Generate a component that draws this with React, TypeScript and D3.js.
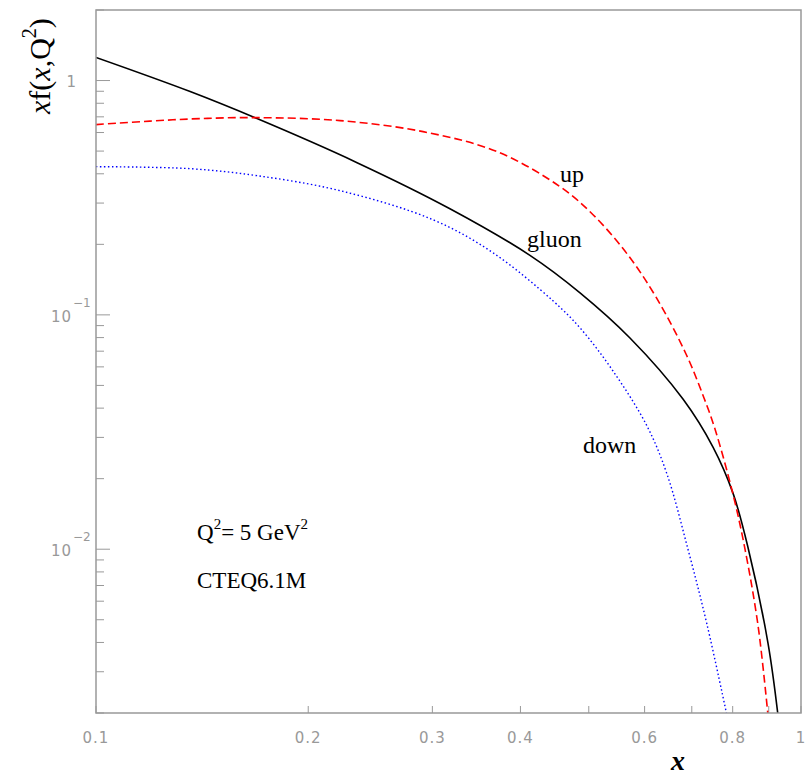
import React from "react";
import * as d3 from "d3";

// Parton distributions x·f(x, Q²) at Q² = 5 GeV², CTEQ6.1M
const gluonX = [0.1, 0.136, 0.1692, 0.2346, 0.3177, 0.4126, 0.4859, 0.572, 0.6801, 0.7502, 0.8008, 0.8409, 0.8979, 0.9277];
const gluonY = [1.254, 0.897, 0.688, 0.4462, 0.2838, 0.1795, 0.1242, 0.0797, 0.04375, 0.02729, 0.01735, 0.0102, 0.003966, 0.00195];

const upX = [0.1, 0.1193, 0.1404, 0.1692, 0.2219, 0.291, 0.3706, 0.4552, 0.507, 0.5665, 0.6226, 0.6869, 0.7285, 0.7551, 0.8008, 0.8329, 0.869, 0.8979];
const upY = [0.6486, 0.6713, 0.688, 0.6947, 0.6746, 0.6052, 0.4973, 0.3524, 0.2676, 0.1823, 0.1193, 0.0681, 0.04418, 0.03257, 0.01718, 0.01, 0.004733, 0.00195];

const downX = [0.1, 0.136, 0.1692, 0.2219, 0.3006, 0.3658, 0.4448, 0.4859, 0.5412, 0.6047, 0.6455, 0.6913, 0.7356, 0.7852];
const downY = [0.429, 0.4206, 0.3927, 0.3388, 0.2547, 0.184, 0.1148, 0.08799, 0.05761, 0.03355, 0.02092, 0.01, 0.004779, 0.00195];

const xAllTicks = [0.1, 0.2, 0.3, 0.4, 0.5, 0.6, 0.7, 0.8, 0.9, 1];
const xLabelValues = [0.1, 0.2, 0.3, 0.4, 0.6, 0.8, 1];
const xLabelTexts = ["0.1", "0.2", "0.3", "0.4", "0.6", "0.8", "1"];
const yMajorValues = [0.01, 0.1, 1];
const yMajorExponents = ["\u22122", "\u22121", ""];

const W = 805;
const H = 777;
const frame = { left: 96, right: 801, top: 10, bottom: 713 };

const x = d3.scaleLog().domain([0.1, 1]).range([frame.left, frame.right]);
const y = d3.scaleLog().domain([0.002, 2]).range([frame.bottom, frame.top]);

const zip = (xs: number[], ys: number[]) => xs.map((v, i) => [v, ys[i]] as [number, number]);

const line = d3
  .line<[number, number]>()
  .x((d) => x(d[0]))
  .y((d) => y(d[1]))
  .curve(d3.curveCatmullRom.alpha(0.5));

const series = [
  { name: "gluon", d: zip(gluonX, gluonY), stroke: "#000000", width: 1.6, dash: undefined as string | undefined },
  { name: "up", d: zip(upX, upY), stroke: "#ff0000", width: 1.6, dash: "8 4" },
  { name: "down", d: zip(downX, downY), stroke: "#0000ff", width: 1.4, dash: "1.5 2.5" },
];

const tickColor = "#999999";
const labelFont = "DejaVu Sans, sans-serif";
const serif = "Liberation Serif, Times New Roman, serif";

export default function App() {
  const yTicks = y.ticks();
  const isMajor = (v: number) => yMajorValues.some((m) => Math.abs(m - v) / m < 1e-6);

  return (
    <svg
      width={W}
      height={H}
      viewBox={`0 0 ${W} ${H}`}
      style={{ position: "absolute", left: 0, top: 0, background: "#ffffff" }}
    >
      <defs>
        <clipPath id="plot-area">
          <rect x={frame.left} y={frame.top} width={frame.right - frame.left} height={frame.bottom - frame.top} />
        </clipPath>
      </defs>
      <rect x={0} y={0} width={W} height={H} fill="#ffffff" />

      {/* y-axis ticks */}
      {yTicks
        .filter((v) => v >= 0.002 && v <= 2)
        .map((v, i) => (
          <line
            key={"yt" + i}
            x1={frame.left}
            x2={frame.left + (isMajor(v) ? 14 : 8)}
            y1={y(v)}
            y2={y(v)}
            stroke={tickColor}
            strokeWidth={1}
          />
        ))}

      {/* x-axis ticks */}
      {xAllTicks.map((v, i) => (
        <line
          key={"xt" + i}
          x1={x(v)}
          x2={x(v)}
          y1={frame.bottom}
          y2={frame.bottom - 7}
          stroke={tickColor}
          strokeWidth={1}
        />
      ))}

      {/* curves */}
      <g clipPath="url(#plot-area)">
        {series.map((s) => (
          <path
            key={s.name}
            d={line(s.d) || ""}
            fill="none"
            stroke={s.stroke}
            strokeWidth={s.width}
            strokeDasharray={s.dash}
          />
        ))}
      </g>

      {/* frame */}
      <rect
        x={frame.left}
        y={frame.top}
        width={frame.right - frame.left}
        height={frame.bottom - frame.top}
        fill="none"
        stroke="#999999"
        strokeWidth={1.5}
      />

      {/* x tick labels */}
      {xLabelValues.map((v, i) => (
        <text
          key={"xl" + i}
          x={x(v)}
          y={743}
          textAnchor="middle"
          fontFamily={labelFont}
          fontSize={15}
          letterSpacing={1}
          fill={tickColor}
        >
          {xLabelTexts[i]}
        </text>
      ))}

      {/* y tick labels */}
      {yMajorValues.map((v, i) =>
        yMajorExponents[i] === "" ? (
          <text
            key={"yl" + i}
            x={76}
            y={y(v) + 6}
            textAnchor="end"
            fontFamily={labelFont}
            fontSize={15}
            fill={tickColor}
          >
            1
          </text>
        ) : (
          <g key={"yl" + i}>
            <text x={72} y={y(v) + 7} textAnchor="end" fontFamily={labelFont} fontSize={15} letterSpacing={1} fill={tickColor}>
              10
            </text>
            <text x={73} y={y(v) - 8} fontFamily={labelFont} fontSize={12} fill={tickColor}>
              {yMajorExponents[i]}
            </text>
          </g>
        )
      )}

      {/* axis titles */}
      <text transform="translate(50,114) rotate(-90)" fontFamily={serif} fontSize={30} fill="#000000">
        <tspan fontStyle="italic">x</tspan>
        <tspan>f(</tspan>
        <tspan fontStyle="italic">x</tspan>
        <tspan>,Q</tspan>
        <tspan fontSize={20} dy={-14}>2</tspan>
        <tspan dy={14}>)</tspan>
      </text>
      <text x={678} y={770} textAnchor="middle" fontFamily={serif} fontSize={28} fontStyle="italic" fontWeight="bold" fill="#000000">
        x
      </text>

      {/* curve labels */}
      <text x={560} y={182} fontFamily={serif} fontSize={24} fill="#000000">up</text>
      <text x={527} y={247} fontFamily={serif} fontSize={24} fill="#000000">gluon</text>
      <text x={583} y={453} fontFamily={serif} fontSize={24} fill="#000000">down</text>

      {/* annotations */}
      <text x={197} y={540} fontFamily={serif} fontSize={23} fill="#000000">
        <tspan>Q</tspan>
        <tspan fontSize={15} dy={-11}>2</tspan>
        <tspan dy={11}>= 5 GeV</tspan>
        <tspan fontSize={15} dy={-11}>2</tspan>
      </text>
      <text x={197} y={588} fontFamily={serif} fontSize={23} fill="#000000">
        CTEQ6.1M
      </text>
    </svg>
  );
}
